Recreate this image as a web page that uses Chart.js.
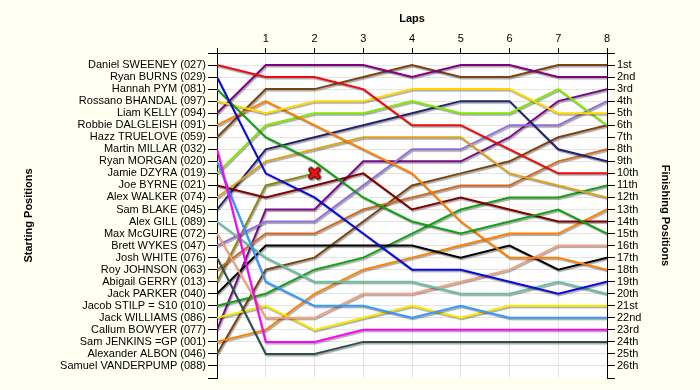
<!DOCTYPE html>
<html>
<head>
<meta charset="utf-8">
<script src="https://cdn.jsdelivr.net/npm/chart.js@4.4.1/dist/chart.umd.min.js"></script>
<style>
    html, body { margin: 0; padding: 0; background: #fffff2; }
    #wrap { width: 700px; height: 390px; }
</style>
</head>
<body>
<div id="wrap"><canvas id="lapChart" width="700" height="390"></canvas></div>
<script>
const LAPS = [0, 1, 2, 3, 4, 5, 6, 7, 8];

const DRIVERS = [
    'Daniel SWEENEY (027)', 'Ryan BURNS (029)', 'Hannah PYM (081)', 'Rossano BHANDAL (097)',
    'Liam KELLY (094)', 'Robbie DALGLEISH (091)', 'Hazz TRUELOVE (059)', 'Martin MILLAR (032)',
    'Ryan MORGAN (020)', 'Jamie DZYRA (019)', 'Joe BYRNE (021)', 'Alex WALKER (074)',
    'Sam BLAKE (045)', 'Alex GILL (089)', 'Max McGUIRE (072)', 'Brett WYKES (047)',
    'Josh WHITE (076)', 'Roy JOHNSON (063)', 'Abigail GERRY (013)', 'Jack PARKER (040)',
    'Jacob STILP = S10 (010)', 'Jack WILLIAMS (086)', 'Callum BOWYER (077)', 'Sam JENKINS =GP (001)',
    'Alexander ALBON (046)', 'Samuel VANDERPUMP (088)'
];

const FINISH_LABELS = [
    '1st', '2nd', '3rd', '4th', '5th', '6th', '7th', '8th', '9th', '10th', '11th', '12th', '13th',
    '14th', '15th', '16th', '17th', '18th', '19th', '20th', '21st', '22nd', '23rd', '24th', '25th', '26th'
];

// position at the end of each lap (index 0 = grid slot)
const sweeney   = [1, 2, 2, 3, 6, 6, 8, 10, 10];
const burns     = [2, 10, 12, 15, 18, 18, 19, 20, 19];
const pym       = [3, 7, 9, 12, 14, 15, 14, 13, 15];
const bhandal   = [4, 5, 4, 4, 3, 3, 3, 5, 5];
const kelly     = [5, 1, 1, 1, 2, 1, 1, 2, 2];
const dalgleish = [6, 4, 6, 8, 10, 14, 17, 17, 18];
const truelove  = [7, 3, 3, 2, 1, 2, 2, 1, 1];
const millar    = [8, 24, 24, 23, 23, 23, 23, 23, 23];
const morgan    = [9, 19, 21, 21, 22, 21, 22, 22, 22];
const dzyra     = [10, 6, 5, 5, 4, 5, 5, 3, 6];
const byrne     = [11, 12, 11, 10, 13, 12, 13, 14, 14];
const walker    = [12, 9, 8, 7, 7, 7, 10, 11, 12];
const blake     = [13, 8, 7, 6, 5, 4, 4, 8, 9];
const gill      = [14, 17, 19, 19, 19, 20, 20, 19, 20];
const mcguire   = [15, 22, 22, 20, 20, 19, 18, 16, 16];
const wykes     = [16, 14, 14, 11, 8, 8, 6, 6, 4];
const white     = [17, 25, 25, 24, 24, 24, 24, 24, 24];
const johnson   = [18, 15, 15, 13, 12, 11, 11, 9, 8];
const gerry     = [19, 11, 10];          // retired after lap 2
const parker    = [20, 16, 16, 16, 16, 17, 16, 18, 17];
const stilp     = [21, 20, 18, 17, 15, 13, 12, 12, 11];
const williams  = [22, 21, 23, 22, 21, 22, 21, 21, 21];
const bowyer    = [23, 13, 13, 9, 9, 9, 7, 4, 3];
const jenkins   = [24, 23, 20, 18, 17, 16, 15, 15, 13];
const albon     = [25, 18, 17, 14, 11, 10, 9, 7, 6];
const vanderpump = [];                   // did not start

const RETIRED = ['Abigail GERRY (013)'];

const seriesList = [sweeney, burns, pym, bhandal, kelly, dalgleish, truelove, millar, morgan, dzyra,
    byrne, walker, blake, gill, mcguire, wykes, white, johnson, gerry, parker, stilp, williams,
    bowyer, jenkins, albon, vanderpump];

const lineColors = ['#ee0a0a', '#0a0ae0', '#14a014', '#ffd800', '#800080', '#ff8000', '#7a4412', '#ff00ff',
    '#3399ff', '#80e800', '#800000', '#daa520', '#22226e', '#66c2a0', '#f4a07e', '#9370db',
    '#2f4f4f', '#d2691e', '#8a8a10', '#000000', '#14a014', '#f8e800', '#7a0a8a', '#ff8000',
    '#7a4412', '#888888'];

function makeCross() {
    const c = document.createElement('canvas');
    c.width = 14; c.height = 14;
    const g = c.getContext('2d');
    g.lineCap = 'round';
    g.beginPath();
    g.moveTo(3.5, 3.5); g.lineTo(10.5, 10.5);
    g.moveTo(10.5, 3.5); g.lineTo(3.5, 10.5);
    g.strokeStyle = '#3a0000'; g.lineWidth = 5.5; g.stroke();
    g.strokeStyle = '#ff1010'; g.lineWidth = 3.2; g.stroke();
    return c;
}
const crossImg = makeCross();

const datasets = seriesList.map((arr, i) => {
    const retired = RETIRED.includes(DRIVERS[i]);
    return {
        label: DRIVERS[i],
        data: arr.map((pos, k) => ({ x: LAPS[k], y: pos })),
        borderColor: lineColors[i],
        backgroundColor: lineColors[i],
        borderWidth: 2,
        tension: 0,
        fill: false,
        pointRadius: retired ? (c => c.dataIndex === arr.length - 1 ? 6 : 0) : 0,
        pointStyle: retired ? (c => c.dataIndex === arr.length - 1 ? crossImg : 'circle') : 'circle',
        pointHoverRadius: 0
    };
});

const bgPlugin = {
    id: 'bgPlugin',
    beforeDraw(chart) {
        const ctx = chart.ctx, a = chart.chartArea;
        ctx.save();
        ctx.fillStyle = '#fffff2';
        ctx.fillRect(0, 0, chart.width, chart.height);
        ctx.fillStyle = '#ffffff';
        ctx.fillRect(a.left, a.top, a.right - a.left, a.bottom - a.top);
        ctx.restore();
    }
};

const lineShadow = {
    id: 'lineShadow',
    beforeDatasetDraw(chart) {
        const ctx = chart.ctx;
        ctx.save();
        ctx.shadowColor = 'rgba(0,0,0,0.35)';
        ctx.shadowOffsetX = 1;
        ctx.shadowOffsetY = 1.5;
        ctx.shadowBlur = 1;
    },
    afterDatasetDraw(chart) { chart.ctx.restore(); }
};

const FONT = { family: '"Liberation Sans", Arial, sans-serif', size: 11 };
const TITLE_FONT = { family: '"Liberation Sans", Arial, sans-serif', size: 11, weight: 'bold' };
const GRID = '#e4e4e4';

function allPositions(scale) {
    const t = [];
    for (let v = 0; v <= 27; v++) t.push({ value: v });
    scale.ticks = t;
}
const edgeGrid = c => (c.tick && (c.tick.value === 0 || c.tick.value === 27)) ? 'rgba(0,0,0,0)' : GRID;

const ctx = document.getElementById('lapChart').getContext('2d');
new Chart(ctx, {
    type: 'line',
    data: { datasets },
    plugins: [bgPlugin, lineShadow],
    options: {
        responsive: false,
        animation: false,
        layout: { padding: { bottom: 12 } },
        plugins: { legend: { display: false }, tooltip: { enabled: false } },
        scales: {
            x: {
                type: 'linear', position: 'top', min: 0, max: 8,
                afterBuildTicks: s => { s.ticks = LAPS.map(v => ({ value: v })); },
                ticks: { callback: v => v === 0 ? '' : String(v), color: '#000', font: FONT, padding: 2, maxRotation: 0 },
                grid: { color: c => (c.tick && c.tick.value === 0) ? 'rgba(0,0,0,0)' : GRID, tickColor: '#000', tickLength: 5 },
                border: { color: '#000', width: 1 },
                title: { display: true, text: 'Laps', color: '#000', font: TITLE_FONT, padding: { top: 12, bottom: 0 } },
                afterFit: s => { s.height = 53; }
            },
            y: {
                type: 'linear', position: 'left', reverse: true, min: 0, max: 27,
                afterBuildTicks: allPositions,
                ticks: { autoSkip: false, callback: v => DRIVERS[v - 1] || '', color: '#000', font: FONT, padding: 2 },
                grid: { color: edgeGrid, tickColor: '#000', tickLength: 9 },
                border: { color: '#000', width: 1 },
                title: { display: true, text: 'Starting Positions', color: '#000', font: TITLE_FONT, padding: { top: 22, bottom: 0 } },
                afterFit: s => { s.width = 217; }
            },
            y2: {
                type: 'linear', position: 'right', reverse: true, min: 0, max: 27,
                afterBuildTicks: allPositions,
                ticks: { autoSkip: false, callback: v => FINISH_LABELS[v - 1] || '', color: '#000', font: FONT, padding: 2 },
                grid: { drawOnChartArea: false, tickColor: '#000', tickLength: 8 },
                border: { color: '#000', width: 1 },
                title: { display: true, text: 'Finishing Positions', color: '#000', font: TITLE_FONT, padding: { top: 28, bottom: 0 } },
                afterFit: s => { s.width = 93; }
            }
        }
    }
});
</script>
</body>
</html>
